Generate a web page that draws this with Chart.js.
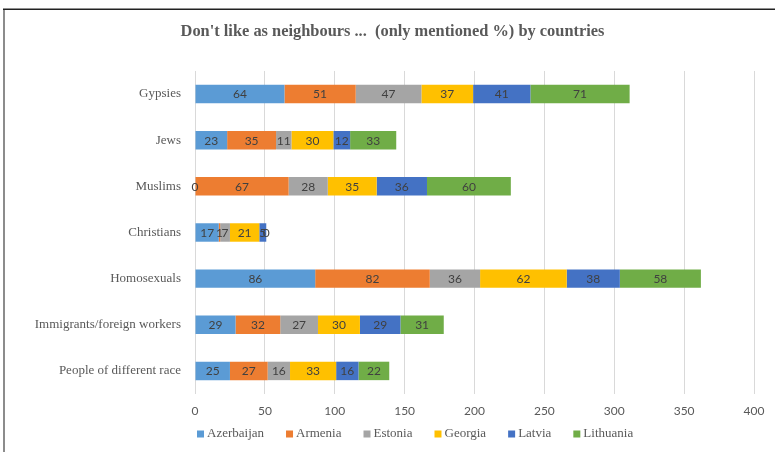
<!DOCTYPE html>
<html>
<head>
<meta charset="utf-8">
<script src="https://cdn.jsdelivr.net/npm/chart.js@4.4.1/dist/chart.umd.min.js"></script>
<style>
  html, body { margin: 0; padding: 0; background: #ffffff; }
  canvas { display: block; }
</style>
</head>
<body>
<canvas id="c" width="775" height="452"></canvas>
<script>
const titleText = "Don't like as neighbours ...  (only mentioned %) by countries";
const categories = ["Gypsies", "Jews", "Muslims", "Christians", "Homosexuals", "Immigrants/foreign workers", "People of different race"];
const seriesNames = ["Azerbaijan", "Armenia", "Estonia", "Georgia", "Latvia", "Lithuania"];
const azerbaijan = [64, 23, 0, 17, 86, 29, 25];
const armenia    = [51, 35, 67, 1, 82, 32, 27];
const estonia    = [47, 11, 28, 7, 36, 27, 16];
const georgia    = [37, 30, 35, 21, 62, 30, 33];
const latvia     = [41, 12, 36, 5, 38, 29, 16];
const lithuania  = [71, 33, 60, 0, 58, 31, 22];
const xTickValues = [0, 50, 100, 150, 200, 250, 300, 350, 400];
const colors = ["#5B9BD5", "#ED7D31", "#A5A5A5", "#FFC000", "#4472C4", "#70AD47"];

const seriesValues = [azerbaijan, armenia, estonia, georgia, latvia, lithuania];

const frame = {
  id: 'frame',
  beforeDraw(chart) {
    const ctx = chart.ctx;
    ctx.save();
    ctx.fillStyle = '#ffffff';
    ctx.fillRect(0, 0, chart.width, chart.height);
    ctx.strokeStyle = '#8c8c8c';
    ctx.lineWidth = 2;
    ctx.beginPath();
    ctx.moveTo(4, 9);
    ctx.lineTo(4, chart.height);
    ctx.stroke();
    ctx.strokeStyle = '#222222';
    ctx.lineWidth = 1.5;
    ctx.beginPath();
    ctx.moveTo(3, 9.25);
    ctx.lineTo(chart.width, 9.25);
    ctx.stroke();
    ctx.restore();
  }
};

const barLabels = {
  id: 'barLabels',
  afterDatasetsDraw(chart) {
    const ctx = chart.ctx;
    ctx.save();
    ctx.font = '12px Lato, "Liberation Sans", sans-serif';
    ctx.fillStyle = '#404040';
    ctx.textAlign = 'center';
    ctx.textBaseline = 'middle';
    chart.data.datasets.forEach((ds, i) => {
      const meta = chart.getDatasetMeta(i);
      meta.data.forEach((bar, j) => {
        const p = bar.getProps(['x', 'y', 'base'], true);
        ctx.fillText(String(ds.data[j]), (p.x + p.base) / 2, p.y + 0.5);
      });
    });
    ctx.restore();
  }
};

const customLegend = {
  id: 'customLegend',
  afterDraw(chart) {
    const ctx = chart.ctx;
    ctx.save();
    ctx.font = '13px "Liberation Serif", "Times New Roman", serif';
    ctx.textBaseline = 'middle';
    ctx.textAlign = 'left';
    let x = 197;
    const y = 434;
    chart.data.datasets.forEach((ds) => {
      ctx.fillStyle = ds.backgroundColor;
      ctx.fillRect(x, y - 3.5, 7, 7);
      ctx.fillStyle = '#595959';
      ctx.fillText(ds.label, x + 10, y);
      x += 10 + ctx.measureText(ds.label).width + 22;
    });
    ctx.restore();
  }
};

new Chart(document.getElementById('c'), {
  type: 'bar',
  data: {
    labels: categories,
    datasets: seriesNames.map((name, i) => ({
      label: name,
      data: seriesValues[i],
      backgroundColor: colors[i],
      borderWidth: 0,
      categoryPercentage: 1.0,
      barPercentage: 0.4
    }))
  },
  options: {
    indexAxis: 'y',
    responsive: false,
    animation: false,
    layout: { padding: { top: 10, left: 31, right: 21, bottom: 23.6 } },
    plugins: {
      legend: { display: false },
      tooltip: { enabled: false },
      title: {
        display: true,
        text: titleText,
        color: '#595959',
        font: { family: '"Liberation Serif", "Times New Roman", serif', size: 16.4, weight: 'bold', lineHeight: 1.2 },
        padding: { top: 12, bottom: 29.3 }
      }
    },
    scales: {
      x: {
        stacked: true,
        min: 0,
        max: 400,
        afterBuildTicks(scale) {
          scale.ticks = xTickValues.map(v => ({ value: v }));
        },
        grid: { color: '#d9d9d9', lineWidth: 1, drawTicks: false },
        border: { display: false },
        ticks: {
          color: '#595959',
          padding: 10,
          font: { family: 'Lato, "Liberation Sans", sans-serif', size: 12 }
        }
      },
      y: {
        stacked: true,
        afterFit(scale) { scale.width = 164; },
        grid: { display: false, drawTicks: false },
        border: { display: false },
        ticks: {
          color: '#595959',
          padding: 14,
          font: { family: '"Liberation Serif", "Times New Roman", serif', size: 13 }
        }
      }
    }
  },
  plugins: [frame, barLabels, customLegend]
});
</script>
</body>
</html>
